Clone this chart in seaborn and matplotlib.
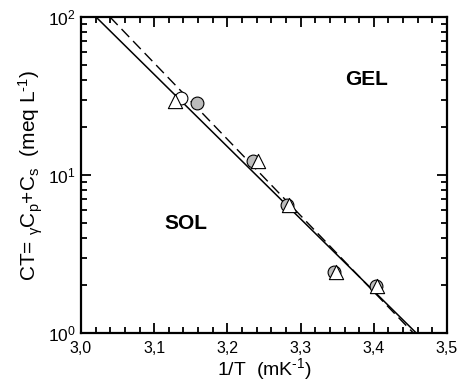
import matplotlib
matplotlib.use("Agg")
import matplotlib.pyplot as plt
import matplotlib.ticker as mticker
import numpy as np
import pandas as pd
import seaborn as sns

# Data
circ_gray_x = [3.158, 3.235, 3.282, 3.346, 3.403]
circ_gray_y = [28.7, 12.3, 6.45, 2.42, 1.98]
circ_open_x = [3.136]
circ_open_y = [30.6]
tri_x = [3.128, 3.242, 3.284, 3.348, 3.405]
tri_y = [29.5, 12.3, 6.45, 2.42, 1.98]
fit_solid_x = [3.0205, 3.458]
fit_solid_y = [100.0, 1.0]
fit_dash_x = [3.0396, 3.454]
fit_dash_y = [100.0, 1.0]
x_ticks = [3.0, 3.1, 3.2, 3.3, 3.4, 3.5]
x_tick_labels = ["3,0", "3,1", "3,2", "3,3", "3,4", "3,5"]

sns.set_style("ticks")
plt.rcParams['font.family'] = ['Liberation Sans', 'DejaVu Sans']
plt.rcParams['mathtext.fontset'] = 'custom'
plt.rcParams['mathtext.rm'] = 'Liberation Sans'
plt.rcParams['mathtext.it'] = 'Liberation Sans:italic'
plt.rcParams['mathtext.bf'] = 'Liberation Sans:bold'
plt.rcParams['text.color'] = 'black'
plt.rcParams['axes.labelcolor'] = 'black'
plt.rcParams['xtick.color'] = 'black'
plt.rcParams['ytick.color'] = 'black'

fig = plt.figure(figsize=(4.62, 3.83), dpi=100)
ax = fig.add_axes([81/462, 50/383, (447-81)/462, (333-17)/383])

sns.lineplot(x=fit_solid_x, y=fit_solid_y, ax=ax, color='black', lw=1.1)
sns.lineplot(x=fit_dash_x, y=fit_dash_y, ax=ax, color='black', lw=1.0,
             linestyle=(0, (8, 4)))

sns.scatterplot(x=circ_gray_x, y=circ_gray_y, ax=ax, marker='o', s=85,
                color='#bcbcbc', edgecolor='black', linewidth=0.8, zorder=3)
sns.scatterplot(x=circ_open_x, y=circ_open_y, ax=ax, marker='o', s=85,
                color='white', edgecolor='black', linewidth=0.8, zorder=3)
sns.scatterplot(x=tri_x, y=tri_y, ax=ax, marker='^', s=105,
                color='white', edgecolor='black', linewidth=0.8, zorder=4)

ax.set_yscale('log')
ax.set_xlim(3.0, 3.5)
ax.set_ylim(1, 100)
ax.set_xticks(x_ticks)
ax.set_xticklabels(x_tick_labels)
ax.xaxis.set_minor_locator(mticker.MultipleLocator(0.02))
ax.yaxis.set_minor_locator(mticker.LogLocator(base=10, subs=np.arange(2, 10)))
ax.yaxis.set_minor_formatter(mticker.NullFormatter())

for s in ax.spines.values():
    s.set_visible(True)
    s.set_linewidth(1.6)
    s.set_color('black')

ax.tick_params(which='both', direction='in', top=True, right=True,
               color='black', width=1.3)
ax.tick_params(axis='x', which='major', labelsize=11.5, pad=5.5)
ax.tick_params(axis='y', which='major', labelsize=12.5, pad=4)
ax.tick_params(which='major', length=7)
ax.tick_params(which='minor', length=4)

ax.set_xlabel(r'1/T  (mK$^{\text{-1}}$)', fontsize=14, labelpad=0)
ax.set_ylabel(r'CT= $_{\mathrm{\gamma}}$C$_{\rm p}$+C$_{\rm s}$  (meq L$^{\text{-1}}$)',
              fontsize=15, labelpad=2)

ax.text(3.390, 40.5, 'GEL', fontsize=15, fontweight='bold', ha='center', va='center')
ax.text(3.143, 4.9, 'SOL', fontsize=15, fontweight='bold', ha='center', va='center')

fig.savefig('out.png', dpi=100)
